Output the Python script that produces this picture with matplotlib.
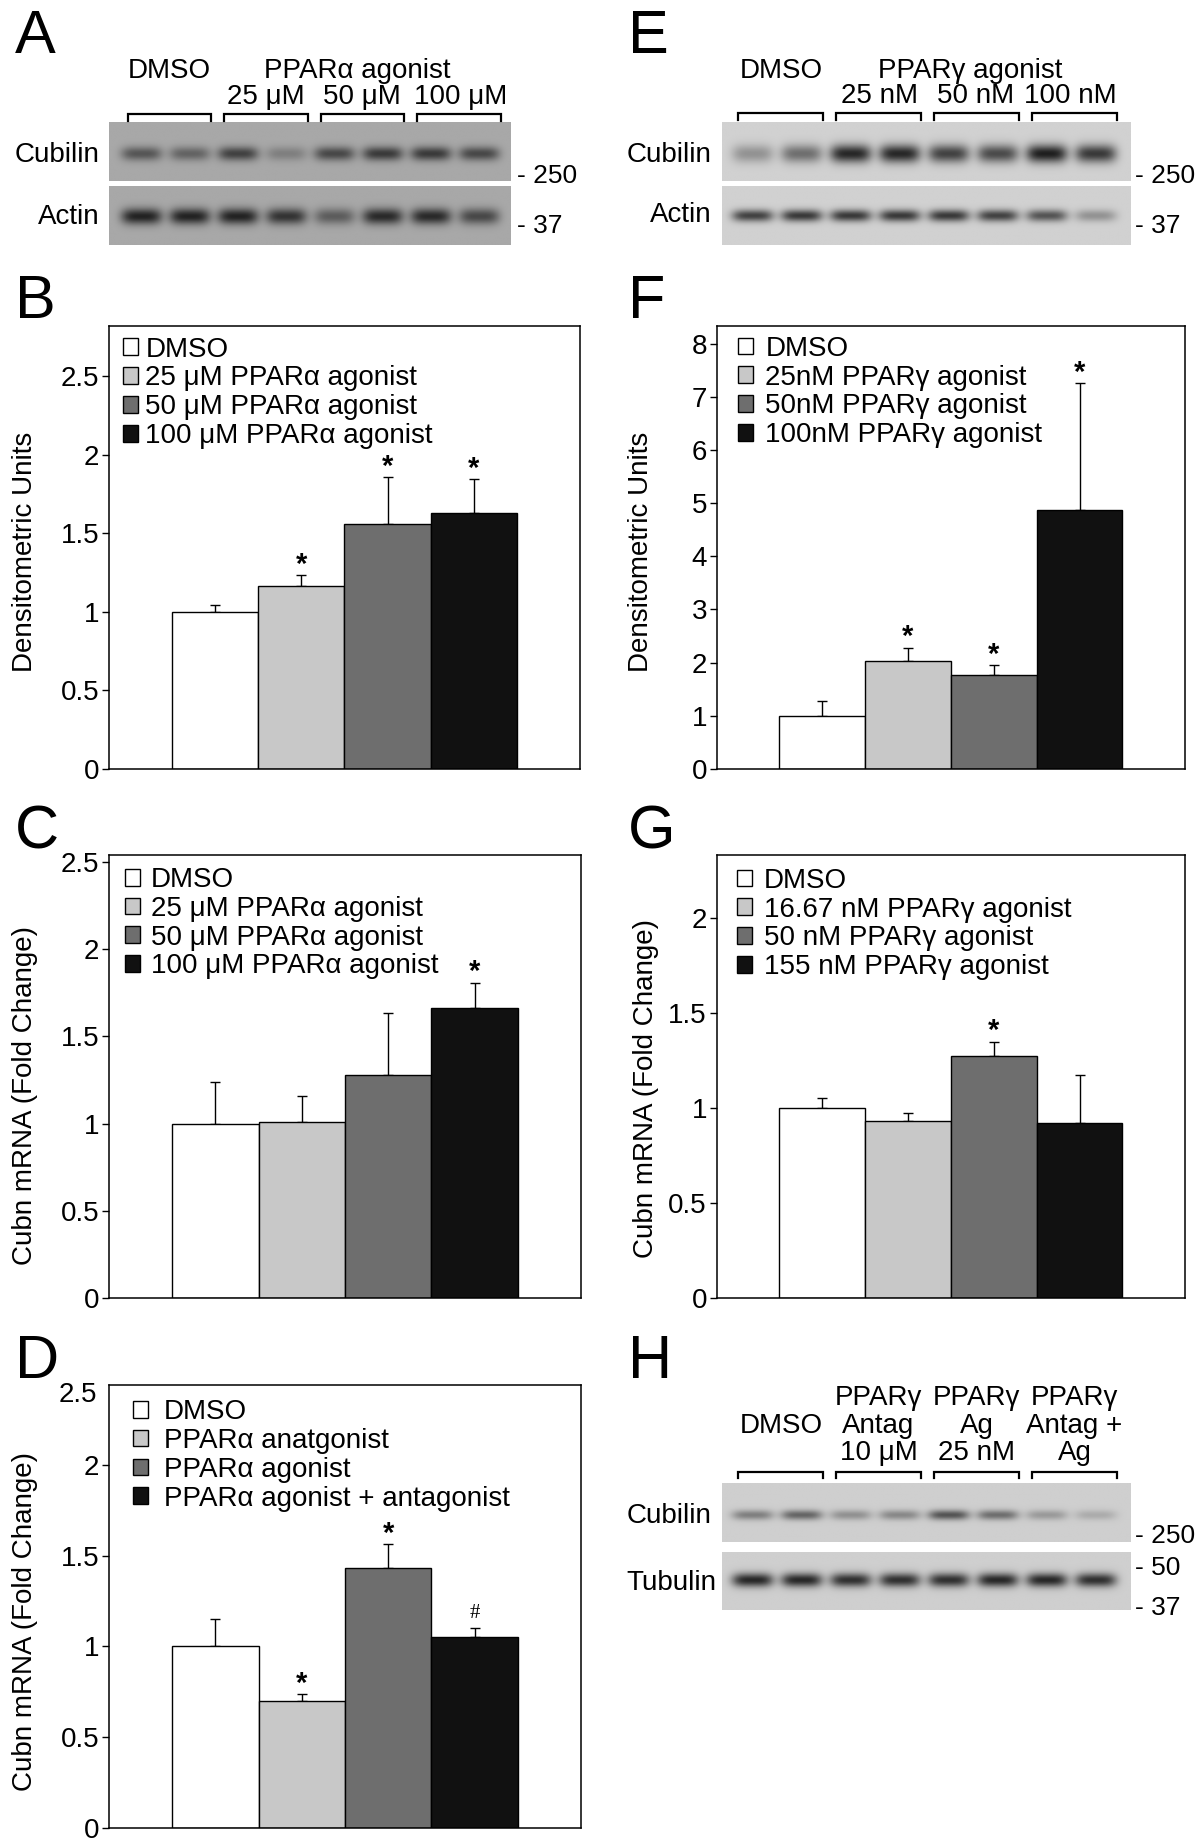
import numpy as np
import matplotlib
matplotlib.use('Agg')
import matplotlib.pyplot as plt
from matplotlib.patches import Patch

plt.rcParams['font.family'] = ['Liberation Sans', 'DejaVu Sans']

W, H = 1200, 1847
fig = plt.figure(figsize=(W / 100, H / 100), dpi=100)
FS = 20

# ---- bar chart data ----
bar_colors = ['white', '#c8c8c8', '#6e6e6e', '#111111']

b_labels = ['DMSO', '25 μM PPARα agonist', '50 μM PPARα agonist', '100 μM PPARα agonist']
b_mean = [1.0, 1.163, 1.559, 1.631]
b_err = [0.047, 0.07, 0.297, 0.214]
b_mark = ['', '*', '*', '*']

f_labels = ['DMSO', '25nM PPARγ agonist', '50nM PPARγ agonist', '100nM PPARγ agonist']
f_mean = [1.0, 2.03, 1.77, 4.87]
f_err = [0.28, 0.25, 0.18, 2.38]
f_mark = ['', '*', '*', '*']

c_labels = ['DMSO', '25 μM PPARα agonist', '50 μM PPARα agonist', '100 μM PPARα agonist']
c_mean = [1.0, 1.007, 1.277, 1.664]
c_err = [0.24, 0.153, 0.358, 0.143]
c_mark = ['', '', '', '*']

g_labels = ['DMSO', '16.67 nM PPARγ agonist', '50 nM PPARγ agonist', '155 nM PPARγ agonist']
g_mean = [1.0, 0.933, 1.273, 0.919]
g_err = [0.054, 0.042, 0.076, 0.253]
g_mark = ['', '', '*', '']

d_labels = ['DMSO', 'PPARα anatgonist', 'PPARα agonist', 'PPARα agonist + antagonist']
d_mean = [1.0, 0.70, 1.434, 1.05]
d_err = [0.153, 0.037, 0.13, 0.05]
d_mark = ['', '*', '*', '#']

# ---- blot band intensities (0 = no band, 1 = darkest) ----
a_cubilin = [0.6, 0.5, 0.75, 0.3, 0.7, 0.8, 0.8, 0.7]
a_actin = [0.97, 0.97, 0.97, 0.85, 0.55, 0.92, 0.92, 0.7]
e_cubilin = [0.35, 0.55, 0.95, 0.95, 0.8, 0.75, 1.0, 0.85]
e_actin = [0.8, 0.85, 0.85, 0.85, 0.85, 0.8, 0.7, 0.35]
h_cubilin = [0.45, 0.6, 0.35, 0.4, 0.7, 0.55, 0.3, 0.2]
h_tubulin = [0.95, 0.95, 0.9, 0.9, 0.9, 0.95, 0.95, 0.9]


def add_ax(x0, y0, x1, y1):
    return fig.add_axes([x0 / W, 1 - y1 / H, (x1 - x0) / W, (y1 - y0) / H])


def letter(s, x, y_base):
    fig.text(x / W, 1 - y_base / H, s, fontsize=44, va='baseline', ha='left')


def bar_panel(box, labels, means, errs, marks, ylim, yticks, ylabel, lab_xy, leg_anchor, leg_pad):
    ax = add_ax(*box)
    x = np.arange(len(means))
    ax.bar(x, means, width=1.0, color=bar_colors, edgecolor='black', linewidth=1.0, zorder=2)
    ax.errorbar(x, means, yerr=[np.zeros(len(errs)), errs], fmt='none', ecolor='black',
                elinewidth=1.0, capsize=3.6, capthick=1.0, zorder=1)
    for xi, m, e, s in zip(x, means, errs, marks):
        if s == '*':
            ax.annotate(s, (xi, m + e), xytext=(0, -2.5), textcoords='offset points', ha='center',
                        va='bottom', fontsize=21, fontweight='bold')
        elif s:
            ax.annotate(s, (xi, m + e), xytext=(0, 4), textcoords='offset points', ha='center',
                        va='bottom', fontsize=15, family='Liberation Serif')
    ax.set_xlim(-1.23, 4.23)
    ax.set_ylim(*ylim)
    ax.set_xticks([])
    ax.set_yticks(yticks)
    ax.yaxis.set_major_formatter('{x:g}')
    ax.tick_params(axis='y', direction='out', length=5, width=1, labelsize=FS, pad=2)
    ax.set_ylabel(ylabel, fontsize=FS)
    ax.yaxis.set_label_coords(*lab_xy)
    for sp in ax.spines.values():
        sp.set_linewidth(1.1)
    handles = [Patch(facecolor=c, edgecolor='black', linewidth=1) for c in bar_colors]
    ax.legend(handles, labels, loc='upper left', bbox_to_anchor=leg_anchor, frameon=False,
              fontsize=FS, borderpad=0, borderaxespad=0, handlelength=0.55, handleheight=0.55,
              handletextpad=leg_pad, labelspacing=0.1)
    return ax


def blot_panel(x0, x1, y0, y1, xlim, strips, bg):
    ax = add_ax(x0, y0, x1, y1)
    for top, bottom, yc, hh, levels in strips:
        xs = np.linspace(xlim[0], xlim[1], 500)
        ys = np.linspace(top, bottom, 90)
        X, Y = np.meshgrid(xs, ys)
        dark = np.zeros_like(X)
        for k, lv in enumerate(levels):
            dark += lv * np.exp(-((X - k) / 0.42) ** 4) * np.exp(-((Y - yc) / hh) ** 2)
        img = bg - np.clip(dark, 0, 1) * (bg - 0.12)
        ax.imshow(img, cmap='gray', vmin=0, vmax=1, extent=(xlim[0], xlim[1], bottom, top),
                  aspect='auto', interpolation='bilinear')
    ax.set_xlim(*xlim)
    ax.set_ylim(y1, y0)
    ax.axis('off')
    return ax


def brackets(ax, y_top, y_bot):
    for g in range(4):
        xa, xb = 2 * g - 0.29, 2 * g + 1 + 0.44
        ax.plot([xa, xa, xb, xb], [y_bot, y_top, y_top, y_bot], color='black', lw=1.6,
                clip_on=False, solid_joinstyle='miter')


# ================= A =================
letter('A', 15, 53)
axA = blot_panel(109.3, 511, 0, 260, (-0.67, 7.65),
                 [(122.7, 181, 154, 7, a_cubilin), (186.7, 245, 216.7, 8, a_actin)], 0.66)
brackets(axA, 114, 121)
axA.text(0.57, 78, 'DMSO', ha='center', va='baseline', fontsize=FS)
axA.text(4.47, 78, 'PPARα agonist', ha='center', va='baseline', fontsize=FS)
for xx, s in zip([2.57, 4.56, 6.6], ['25 μM', '50 μM', '100 μM']):
    axA.text(xx, 104, s, ha='center', va='baseline', fontsize=FS)
yt = axA.get_yaxis_transform()
axA.text(-0.025, 162, 'Cubilin', transform=yt, ha='right', va='baseline', fontsize=FS)
axA.text(-0.025, 224, 'Actin', transform=yt, ha='right', va='baseline', fontsize=FS)
axA.text(1.015, 183, '- 250', transform=yt, ha='left', va='baseline', fontsize=19)
axA.text(1.015, 233, '- 37', transform=yt, ha='left', va='baseline', fontsize=19)

# ================= E =================
letter('E', 628, 53)
axE = blot_panel(721.7, 1130, 0, 260, (-0.62, 7.71),
                 [(122.7, 181, 154, 9, e_cubilin), (186.7, 245, 216, 6, e_actin)], 0.82)
brackets(axE, 113, 120)
axE.text(0.6, 78, 'DMSO', ha='center', va='baseline', fontsize=FS)
axE.text(4.45, 78, 'PPARγ agonist', ha='center', va='baseline', fontsize=FS)
for xx, s in zip([2.6, 4.55, 6.5], ['25 nM', '50 nM', '100 nM']):
    axE.text(xx, 103, s, ha='center', va='baseline', fontsize=FS)
yt = axE.get_yaxis_transform()
axE.text(-0.025, 162, 'Cubilin', transform=yt, ha='right', va='baseline', fontsize=FS)
axE.text(-0.025, 222, 'Actin', transform=yt, ha='right', va='baseline', fontsize=FS)
axE.text(1.012, 183, '- 250', transform=yt, ha='left', va='baseline', fontsize=19)
axE.text(1.012, 233, '- 37', transform=yt, ha='left', va='baseline', fontsize=19)

# ================= H =================
letter('H', 628, 1378)
axH = blot_panel(721.7, 1130, 1330, 1640, (-0.62, 7.71),
                 [(1483, 1542, 1515, 5, h_cubilin), (1552, 1610, 1580, 7, h_tubulin)], 0.81)
brackets(axH, 1472, 1478)
h_heads = [['DMSO'], ['PPARγ', 'Antag', '10 μM'], ['PPARγ', 'Ag', '25 nM'], ['PPARγ', 'Antag +', 'Ag']]
for g, lines in enumerate(h_heads):
    if len(lines) == 1:
        axH.text(2 * g + 0.6, 1433, lines[0], ha='center', va='baseline', fontsize=FS)
    else:
        for yb, s in zip([1405, 1433, 1460], lines):
            axH.text(2 * g + 0.58, yb, s, ha='center', va='baseline', fontsize=FS)
yt = axH.get_yaxis_transform()
axH.text(-0.233, 1523, 'Cubilin', transform=yt, ha='left', va='baseline', fontsize=FS)
axH.text(-0.233, 1590, 'Tubulin', transform=yt, ha='left', va='baseline', fontsize=FS)
axH.text(1.012, 1543, '- 250', transform=yt, ha='left', va='baseline', fontsize=19)
axH.text(1.012, 1575, '- 50', transform=yt, ha='left', va='baseline', fontsize=19)
axH.text(1.012, 1615, '- 37', transform=yt, ha='left', va='baseline', fontsize=19)

# ================= bar panels =================
letter('B', 15, 318)
bar_panel((109, 326, 580, 769), b_labels, b_mean, b_err, b_mark, (0, 2.82),
          [0, 0.5, 1, 1.5, 2, 2.5], 'Densitometric Units', (-0.151, 0.49), (0.03, 0.976), 0.25)

letter('F', 628, 318)
bar_panel((716.7, 326, 1185, 769), f_labels, f_mean, f_err, f_mark, (0, 8.33),
          range(0, 9), 'Densitometric Units', (-0.134, 0.49), (0.045, 0.978), 0.44)

letter('C', 15, 848)
bar_panel((109, 855, 581, 1298), c_labels, c_mean, c_err, c_mark, (0, 2.54),
          [0, 0.5, 1, 1.5, 2, 2.5], 'Cubn mRNA (Fold Change)', (-0.151, 0.458), (0.034, 0.973), 0.38)

letter('G', 628, 848)
bar_panel((716.7, 855, 1185, 1298), g_labels, g_mean, g_err, g_mark, (0, 2.33),
          [0, 0.5, 1, 1.5, 2], 'Cubn mRNA (Fold Change)', (-0.123, 0.474), (0.043, 0.971), 0.41)

letter('D', 15, 1378)
axD = bar_panel((109, 1385, 581, 1828), d_labels, d_mean, d_err, d_mark, (0, 2.44),
                [0, 0.5, 1, 1.5, 2], 'Cubn mRNA (Fold Change)', (-0.151, 0.466), (0.051, 0.968), 0.55)
axD.text(-0.025, 2.385, '2.5', transform=axD.get_yaxis_transform(), ha='right', va='center', fontsize=FS)

fig.savefig('out.png', dpi=100, facecolor='white')
